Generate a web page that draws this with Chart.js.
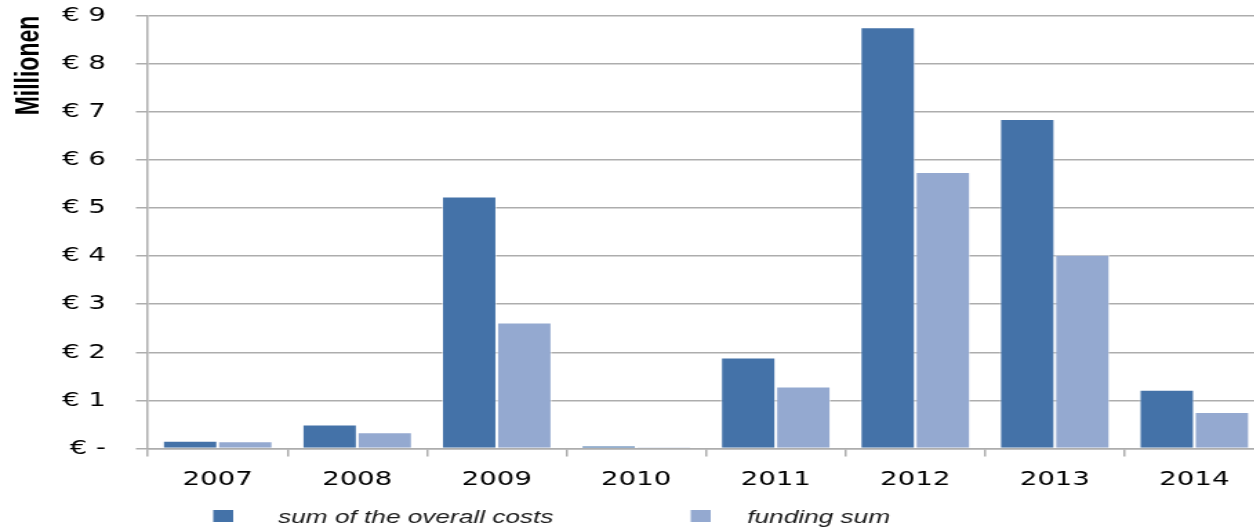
<!DOCTYPE html>
<html>
<head>
<meta charset="utf-8">
<script src="https://cdn.jsdelivr.net/npm/chart.js@4/dist/chart.umd.min.js"></script>
<style>
  html, body { margin: 0; padding: 0; background: #fff; overflow: hidden; }
  #wrap { width: 916px; height: 530px; transform: scaleX(1.38); transform-origin: 0 0; }
  canvas { display: block; }
</style>
</head>
<body>
<div id="wrap"><canvas id="c" width="916" height="530"></canvas></div>
<script>
const years = ['2007', '2008', '2009', '2010', '2011', '2012', '2013', '2014'];
const overallCosts = [0.16, 0.50, 5.24, 0.06, 1.89, 8.76, 6.85, 1.22];
const fundingSum = [0.15, 0.34, 2.62, 0.03, 1.29, 5.75, 4.03, 0.76];
const seriesLabels = ['sum of the overall costs', 'funding sum'];
const yTickValues = [0, 1, 2, 3, 4, 5, 6, 7, 8, 9];
const yAxisTitle = 'Millionen';

const DARK = '#4472a8';
const LIGHT = '#94a9d0';
const GRID = '#adadad';

const legendPlugin = {
  id: 'customLegend',
  afterDraw(chart) {
    const ctx = chart.ctx;
    const boxX = [154.5, 500.5];
    const textX = [201.5, 541.5];
    ctx.save();
    ctx.font = 'italic 19px "Liberation Sans", Arial, sans-serif';
    ctx.textBaseline = 'alphabetic';
    ctx.textAlign = 'left';
    chart.data.datasets.forEach((ds, i) => {
      ctx.fillStyle = ds.backgroundColor;
      ctx.fillRect(boxX[i], 510, 14.5, 12);
      ctx.fillStyle = '#1a1a1a';
      ctx.fillText(ds.label, textX[i], 523);
    });
    ctx.restore();
  }
};

new Chart(document.getElementById('c'), {
  type: 'bar',
  data: {
    labels: years,
    datasets: [
      { label: seriesLabels[0], data: overallCosts, backgroundColor: DARK, borderColor: 'rgba(255,255,255,0.55)', borderWidth: 1 },
      { label: seriesLabels[1], data: fundingSum, backgroundColor: LIGHT, borderColor: 'rgba(255,255,255,0.55)', borderWidth: 1 }
    ]
  },
  options: {
    responsive: false,
    animation: false,
    layout: { padding: { top: 15.7, right: 0, bottom: 27.5, left: 0 } },
    datasets: { bar: { categoryPercentage: 0.79, barPercentage: 1.0 } },
    plugins: {
      legend: { display: false },
      tooltip: { enabled: false }
    },
    scales: {
      x: {
        offset: true,
        grid: { offset: true, drawOnChartArea: false, drawTicks: true, tickLength: 8, color: GRID, lineWidth: 1.5 },
        border: { display: true, color: GRID, width: 1.5 },
        ticks: { color: '#000', padding: 11, font: { family: '"DejaVu Sans", Verdana, sans-serif', size: 20 } }
      },
      y: {
        min: 0,
        max: 9,
        afterBuildTicks(scale) { scale.ticks = yTickValues.map(v => ({ value: v })); },
        afterFit(scale) { scale.width = 107.2; scale.paddingTop = 0; scale.paddingBottom = 0; },
        grid: { color: GRID, lineWidth: 1.5, drawTicks: true, tickLength: 8.7 },
        border: { display: true, color: GRID, width: 1.5 },
        ticks: {
          color: '#000',
          padding: 21.7,
          font: { family: '"DejaVu Sans", Verdana, sans-serif', size: 20 },
          callback: v => v === 0 ? '€ -' : '€ ' + v
        },
        title: {
          display: true,
          text: yAxisTitle,
          align: 'end',
          color: '#000',
          padding: { top: 8, bottom: 0 },
          font: { family: '"Liberation Sans Narrow", "Arial Narrow", "Liberation Sans", sans-serif', size: 23, weight: 'bold' }
        }
      }
    }
  },
  plugins: [legendPlugin]
});
</script>
</body>
</html>
